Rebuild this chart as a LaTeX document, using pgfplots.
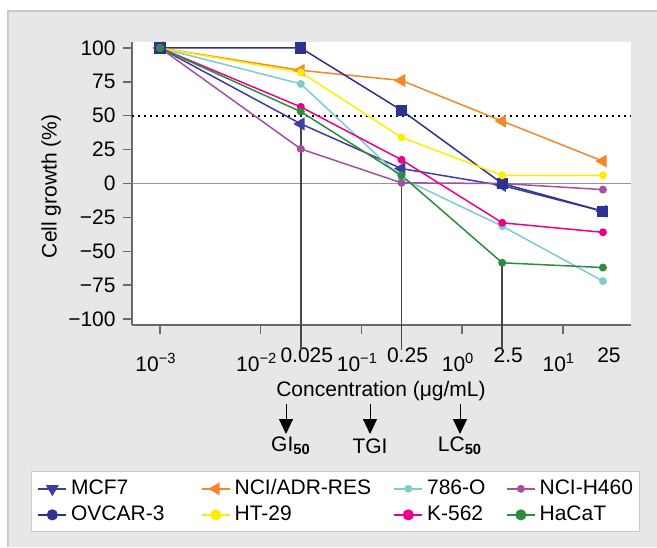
\documentclass[border=0pt]{standalone}
\usepackage{fontspec}
\setmainfont{Liberation Sans}
\usepackage{pgfplots}
\pgfplotsset{compat=1.18}
\usetikzlibrary{arrows.meta}

\definecolor{panel}{RGB}{230,231,232}
\definecolor{panelborder}{RGB}{200,201,203}
\definecolor{axisgray}{RGB}{105,106,110}
\definecolor{zerogray}{RGB}{150,150,152}
\definecolor{mcf}{RGB}{62,62,160}
\definecolor{ovcar}{RGB}{46,49,146}
\definecolor{orng}{RGB}{247,134,40}
\definecolor{yllw}{RGB}{255,238,0}
\definecolor{cyn}{RGB}{125,205,205}
\definecolor{purp}{RGB}{165,80,160}
\definecolor{pnk}{RGB}{236,0,140}
\definecolor{grn}{RGB}{46,140,60}
\definecolor{vline}{RGB}{70,70,70}

\newcommand{\fs}{\fontsize{10.5}{12.6}\selectfont}

\begin{document}
\fs
\begin{tikzpicture}[x=0.5pt,y=0.5pt,font=\fs]
\useasboundingbox (0,0) rectangle (657,547);
\fill[white] (0,0) rectangle (657,547);
\fill[panel] (8,0) rectangle (657,536);
\draw[panelborder,line width=0.6pt] (8,0) -- (8,536) -- (657,536);

\begin{axis}[
  at={(66pt,111pt)}, anchor=south west,
  scale only axis, width=249.5pt, height=141.5pt,
  xmode=log, xmin=5.27e-4, xmax=47.5,
  ymin=-104.4, ymax=104.4,
  clip=false,
  axis background/.style={fill=white},
  axis x line*=bottom, axis y line*=left,
  axis line style={axisgray,line width=0.9pt},
  xminorticks=false, yminorticks=false,
  tick align=outside, major tick length=4.5pt,
  tick style={axisgray,line width=0.7pt},
  xtick={0.001,0.01,0.1,1,10},
  xticklabels={10\textsuperscript{−3},10\textsuperscript{−2},10\textsuperscript{−1},10\textsuperscript{0},10\textsuperscript{1}},
  xticklabel style={yshift=-6pt,xshift=-2pt},
  extra x ticks={0.025,0.25,2.5,25},
  extra x tick labels={0.025,0.25,2.5,25},
  extra x tick style={major tick length=0pt, tick label style={yshift=-1.5pt,xshift=5pt}},
  ytick={-100,-75,-50,-25,0,25,50,75,100},
  yticklabels={−100,−75,−50,−25,0,25,50,75,100},
  tick label style={font=\fs},
  /pgf/number format/assume math mode=true,
  xlabel={Concentration (μg/mL)},
  ylabel={Cell growth (\%)},
  every axis x label/.style={at={(axis description cs:0.499,-0.235)},anchor=center,font=\fs},
  every axis y label/.style={at={(axis description cs:-0.162,0.49)},rotate=90,anchor=center,font=\fs},
  legend columns=4,
  legend cell align=left,
  legend style={at={(axis description cs:-0.2024,-0.5159)}, anchor=north west,
    draw=panelborder, fill=white, line width=0.6pt, font=\fs,
    inner xsep=3pt, inner ysep=2pt,
    /tikz/every even column/.append style={column sep=0pt},
    /tikz/every odd column/.append style={column sep=0pt}},
  legend image code/.code={\draw[mark repeat=2,mark phase=2,#1] plot coordinates {(0pt,0pt) (7pt,0pt) (14pt,0pt)};},
  every axis plot/.append style={line width=0.75pt},
]
% reference lines
\addplot[zerogray,line width=0.8pt,forget plot] coordinates {(5.27e-4,0) (47.5,0)};
\addplot[black,line width=0.8pt,dash pattern=on 0.8pt off 2.2pt,forget plot] coordinates {(5.27e-4,50) (47.5,50)};
\addplot[vline,line width=0.8pt,forget plot] coordinates {(0.025,44) (0.025,-123)};
\addplot[vline,line width=0.8pt,forget plot] coordinates {(0.25,0) (0.25,-123)};
\addplot[vline,line width=0.8pt,forget plot] coordinates {(2.5,-58.5) (2.5,-123)};

% series (legend order, 4 columns)
\addplot[mcf,mark=triangle*,mark size=3pt,mark options={rotate=90,fill=mcf,draw=mcf},
  legend image post style={mark options={rotate=180,fill=mcf,draw=mcf}}]
  coordinates {(0.001,100) (0.025,44) (0.25,11) (2.5,-1.5) (25,-20.5)};
\addlegendentry{\makebox[63pt][l]{MCF7}}
\addplot[orng,mark=triangle*,mark size=3pt,mark options={rotate=90,fill=orng,draw=orng}]
  coordinates {(0.001,100) (0.025,83.5) (0.25,76) (2.5,46) (25,16.5)};
\addlegendentry{\makebox[77.5pt][l]{NCI/ADR-RES}}
\addplot[cyn,mark=*,mark size=1.6pt,mark options={fill=cyn,draw=cyn}]
  coordinates {(0.001,100) (0.025,73.5) (0.25,4) (2.5,-31.5) (25,-72)};
\addlegendentry{\makebox[37.5pt][l]{786-O}}
\addplot[purp,mark=*,mark size=1.6pt,mark options={fill=purp,draw=purp}]
  coordinates {(0.001,100) (0.025,25.5) (0.25,0.5) (2.5,0) (25,-4.5)};
\addlegendentry{\makebox[45pt][l]{NCI-H460}}
\addplot[ovcar,mark=square*,mark size=2.4pt,mark options={fill=ovcar,draw=ovcar},
  legend image post style={mark=*,mark size=2.4pt}]
  coordinates {(0.001,100) (0.025,100) (0.25,54) (2.5,0) (25,-20.5)};
\addlegendentry{OVCAR-3}
\addplot[yllw,mark=*,mark size=1.6pt,mark options={fill=yllw,draw=yllw},
  legend image post style={mark size=2.4pt}]
  coordinates {(0.001,100) (0.025,82) (0.25,34) (2.5,6) (25,6)};
\addlegendentry{HT-29}
\addplot[pnk,mark=*,mark size=1.6pt,mark options={fill=pnk,draw=pnk},
  legend image post style={mark size=2.4pt}]
  coordinates {(0.001,100) (0.025,56.5) (0.25,17.5) (2.5,-29) (25,-36)};
\addlegendentry{K-562}
\addplot[grn,mark=*,mark size=1.6pt,mark options={fill=grn,draw=grn},
  legend image post style={mark size=2.4pt}]
  coordinates {(0.001,100) (0.025,53) (0.25,6) (2.5,-58.5) (25,-62)};
\addlegendentry{HaCaT}
\end{axis}

% annotation arrows
\foreach \xx in {286,370,460}{
  \draw[black,line width=0.5pt,-{Triangle[length=7.5pt,width=7pt]}] (\xx,143) -- (\xx,113);
}
\node[anchor=center] at (291,101) {GI\textsubscript{\bfseries 50}};
\node[anchor=center] at (370,101) {TGI};
\node[anchor=center] at (460,101) {LC\textsubscript{\bfseries 50}};
\end{tikzpicture}
\end{document}
